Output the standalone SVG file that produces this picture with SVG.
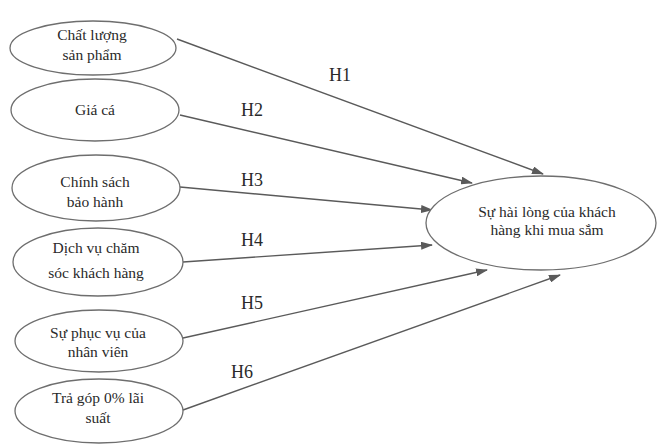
<svg xmlns="http://www.w3.org/2000/svg" width="658" height="446" viewBox="0 0 658 446">
<style>
.node ellipse{fill:#fff;stroke:#6e6e6e;stroke-width:1.3}
.node text{font-family:"Liberation Serif","Times New Roman",serif;font-size:15.5px;fill:#2a2a2a;text-anchor:middle}
.conn line{stroke:#5a5a5a;stroke-width:1.4;marker-end:url(#ah)}
.lbl{font-family:"Liberation Serif","Times New Roman",serif;font-size:18px;fill:#2a2a2a;text-anchor:middle}
</style>
<defs>
<marker id="ah" markerWidth="12" markerHeight="8" refX="11" refY="4" orient="auto" markerUnits="userSpaceOnUse">
<path d="M0,0 L12,4 L0,8 Z" fill="#5a5a5a"/>
</marker>
</defs>
<rect width="658" height="446" fill="#fff"/>
<g class="conn">
<line x1="177" y1="39" x2="543" y2="174"/>
<line x1="180" y1="115" x2="472" y2="183"/>
<line x1="180" y1="187" x2="432" y2="210"/>
<line x1="183" y1="262" x2="432" y2="245"/>
<line x1="183" y1="338" x2="487" y2="270"/>
<line x1="183" y1="410" x2="560" y2="275"/>
</g>
<g class="labels">
<text class="lbl" x="340" y="81">H1</text>
<text class="lbl" x="252" y="116">H2</text>
<text class="lbl" x="252" y="186">H3</text>
<text class="lbl" x="252" y="246">H4</text>
<text class="lbl" x="252" y="309">H5</text>
<text class="lbl" x="242" y="378">H6</text>
</g>
<g id="n1" class="node"><ellipse cx="93" cy="48" rx="83" ry="27"/><text x="92" y="40">Chất lượng</text><text x="92" y="60">sản phẩm</text></g>
<g id="n2" class="node"><ellipse cx="95" cy="110" rx="84" ry="31"/><text x="95" y="115">Giá cá</text></g>
<g id="n3" class="node"><ellipse cx="96" cy="188" rx="84" ry="33"/><text x="95" y="187">Chính sách</text><text x="95" y="207">bảo hành</text></g>
<g id="n4" class="node"><ellipse cx="98" cy="262" rx="85" ry="34"/><text x="96" y="253">Dịch vụ chăm</text><text x="96" y="278">sóc khách hàng</text></g>
<g id="n5" class="node"><ellipse cx="99" cy="341" rx="84" ry="31"/><text x="98" y="338">Sự phục vụ của</text><text x="98" y="357">nhân viên</text></g>
<g id="n6" class="node"><ellipse cx="99" cy="411" rx="84" ry="32"/><text x="98" y="403">Trả góp 0% lãi</text><text x="98" y="423">suất</text></g>
<g id="n7" class="node"><ellipse cx="541" cy="223" rx="115" ry="47"/><text x="547" y="217">Sự hài lòng của khách</text><text x="547" y="235">hàng khi mua sắm</text></g>
</svg>
